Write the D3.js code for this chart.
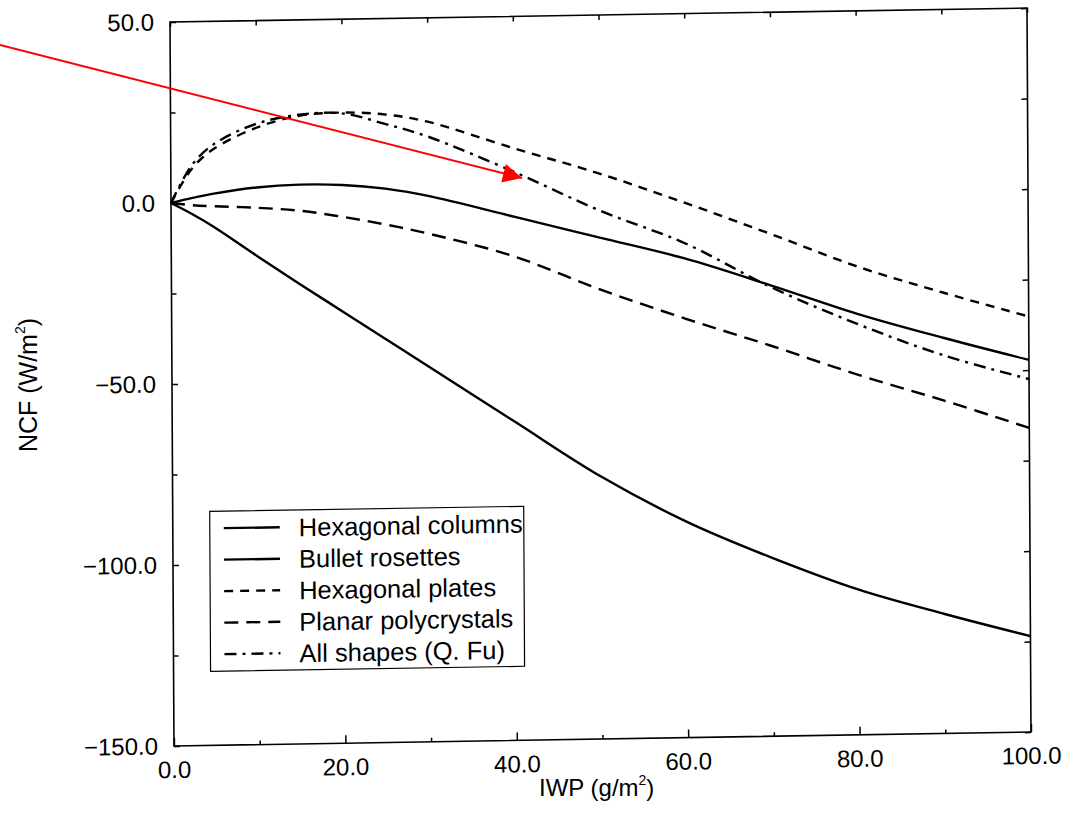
<!DOCTYPE html>
<meta charset="utf-8">
<script src="https://d3js.org/d3.v7.min.js"></script>
<style>
  body { margin: 0; background: #fff; }
  svg { font-family: "Liberation Sans", Arial, Helvetica, sans-serif; }
  .axis text { font-size: 24px; fill: #000; }
  .axis line { stroke: #000; stroke-width: 1.5; }
  .axis .domain { display: none; }
</style>

<div id="chart"></div>

<script>
// Values (IWP in g/m^2, NCF in W/m^2).
var iwp = [0, 2.5, 5, 10, 15, 20, 25, 30, 40, 50, 60, 70, 80, 90, 100];
var hexColumns = [0, -3.2, -6.8, -15, -23, -30.8, -38.6, -46.4, -62, -77.5, -90.4, -100.8, -109.9, -117, -123.5];
var bulletRosettes = [0, 1.3, 2.4, 3.9, 4.5, 4.2, 3.0, 0.8, -5.3, -11.5, -17.7, -25.5, -33.7, -40.7, -47.2];
var hexPlates = [0, 9.5, 14.7, 20.4, 23.5, 24.2, 23.5, 21.3, 13.6, 6.2, -2.3, -11.3, -20.6, -28.2, -35.2];
var planarPoly = [0, -0.7, -1.1, -1.7, -2.7, -4.6, -6.9, -9.6, -16.3, -25.8, -34.3, -42.2, -50.5, -58, -66];
var allShapes = [0, 10.5, 16, 21.5, 23.8, 24.0, 20.9, 17.2, 7.1, -4, -13.5, -26, -36.5, -45.5, -52.5];

var seriesNames = ["Hexagonal columns", "Bullet rosettes", "Hexagonal plates", "Planar polycrystals", "All shapes (Q. Fu)"];
var seriesValues = [hexColumns, bulletRosettes, hexPlates, planarPoly, allShapes];
var seriesDash = [null, null, "9,7", "14,8", "12,6,3,6"];

var xLabelTicks = [0, 20, 40, 60, 80, 100];
var xMinorTicks = [10, 30, 50, 70, 90];
var yLabelTicks = [50, 0, -50, -100, -150];
var yMinorTicks = [25, -25, -75, -125];

// Plot box in its own frame; the scan is slightly skewed so the whole
// frame gets a small shear to sit where the original does.
var plotLeft = 170, plotTop = 22;
var width = 857, height = 724;
var shearX = 0.0055, shearY = -0.0163;

var x = d3.scaleLinear().domain([0, 100]).range([0, width]);
var y = d3.scaleLinear().domain([-150, 50]).range([height, 0]);
var fmt = d3.format(".1f");

var svg = d3.select("#chart").append("svg")
    .attr("width", 1070)
    .attr("height", 813);

var g = svg.append("g")
    .attr("transform", "matrix(1," + shearY + "," + shearX + ",1," + plotLeft + "," + plotTop + ")");

// Frame.
g.append("rect")
    .attr("x", 0)
    .attr("y", 0)
    .attr("width", width)
    .attr("height", height)
    .attr("fill", "none")
    .attr("stroke", "#000")
    .attr("stroke-width", 1.6);

// Bottom axis with labels, inward ticks.
g.append("g")
    .attr("class", "axis")
    .attr("transform", "translate(0," + height + ")")
    .call(d3.axisBottom(x).tickValues(xLabelTicks).tickFormat(fmt)
        .tickSizeInner(-8).tickSizeOuter(0).tickPadding(15));

g.append("g")
    .attr("class", "axis")
    .attr("transform", "translate(0," + height + ")")
    .call(d3.axisBottom(x).tickValues(xMinorTicks).tickFormat("")
        .tickSizeInner(-4).tickSizeOuter(0));

// Top axis, ticks only.
g.append("g")
    .attr("class", "axis")
    .call(d3.axisTop(x).tickValues(xLabelTicks.concat(xMinorTicks)).tickFormat("")
        .tickSizeInner(-5).tickSizeOuter(0));

// Left axis with labels.
g.append("g")
    .attr("class", "axis")
    .call(d3.axisLeft(y).tickValues(yLabelTicks).tickFormat(fmt)
        .tickSizeInner(-6).tickSizeOuter(0).tickPadding(16));

g.append("g")
    .attr("class", "axis")
    .call(d3.axisLeft(y).tickValues(yMinorTicks).tickFormat("")
        .tickSizeInner(-5).tickSizeOuter(0));

// Right axis, ticks only.
g.append("g")
    .attr("class", "axis")
    .attr("transform", "translate(" + width + ",0)")
    .call(d3.axisRight(y).tickValues(yLabelTicks.concat(yMinorTicks)).tickFormat("")
        .tickSizeInner(-6).tickSizeOuter(0));

// Curves.
var line = d3.line()
    .x(function(d, i) { return x(iwp[i]); })
    .y(function(d) { return y(d); })
    .curve(d3.curveCatmullRom);

g.append("g").selectAll("path")
    .data(seriesValues)
    .enter().append("path")
    .attr("d", line)
    .attr("fill", "none")
    .attr("stroke", "#000")
    .attr("stroke-width", 2.4)
    .attr("stroke-dasharray", function(d, i) { return seriesDash[i]; });

// Legend box.
var legend = g.append("g").attr("transform", "translate(37,490)");

legend.append("rect")
    .attr("width", 314)
    .attr("height", 160)
    .attr("fill", "#fff")
    .attr("stroke", "#000")
    .attr("stroke-width", 1.2);

var row = legend.selectAll(".row")
    .data(seriesNames)
    .enter().append("g")
    .attr("class", "row")
    .attr("transform", function(d, i) { return "translate(0," + (17 + i * 31.5) + ")"; });

row.append("line")
    .attr("x1", 14)
    .attr("x2", 70)
    .attr("stroke", "#000")
    .attr("stroke-width", 2.4)
    .attr("stroke-dasharray", function(d, i) { return seriesDash[i]; });

row.append("text")
    .attr("x", 89)
    .attr("dy", "0.36em")
    .attr("font-size", 25.5)
    .text(function(d) { return d; });

// Axis titles.
var xTitle = svg.append("text")
    .attr("x", 539)
    .attr("y", 796)
    .attr("font-size", 24);
xTitle.append("tspan").text("IWP (g/m");
xTitle.append("tspan").attr("font-size", 14).attr("dy", -11).text("2");
xTitle.append("tspan").attr("dy", 11).text(")");

var yTitle = svg.append("text")
    .attr("transform", "translate(37,385) rotate(-90)")
    .attr("text-anchor", "middle")
    .attr("font-size", 25);
yTitle.append("tspan").text("NCF (W/m");
yTitle.append("tspan").attr("font-size", 14).attr("dy", -12).text("2");
yTitle.append("tspan").attr("dy", 12).text(")");

// Red annotation arrow.
svg.append("defs").append("marker")
    .attr("id", "head")
    .attr("viewBox", "0 0 10 10")
    .attr("refX", 10)
    .attr("refY", 5)
    .attr("markerUnits", "userSpaceOnUse")
    .attr("markerWidth", 22)
    .attr("markerHeight", 19)
    .attr("orient", "auto")
    .append("path")
    .attr("d", "M0,0L10,5L0,10Z")
    .attr("fill", "#f00");

svg.append("line")
    .attr("x1", 0)
    .attr("y1", 45)
    .attr("x2", 522)
    .attr("y2", 178)
    .attr("stroke", "#f00")
    .attr("stroke-width", 2)
    .attr("marker-end", "url(#head)");
</script>
